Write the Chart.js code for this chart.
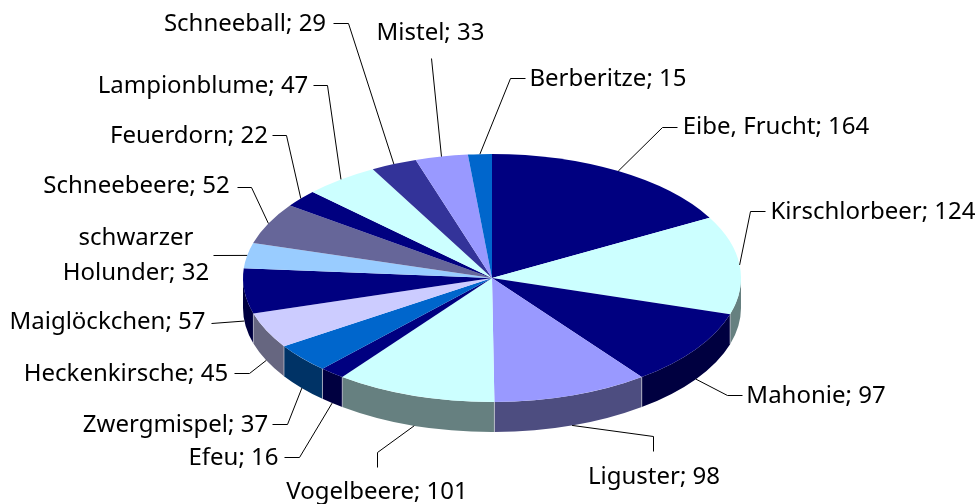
<!DOCTYPE html>
<html><head><meta charset="utf-8">
<style>html,body{margin:0;padding:0;background:#fff}canvas{display:block}</style>
<script src="https://cdn.jsdelivr.net/npm/chart.js@4"></script>
</head><body>
<canvas id="c" width="977" height="504"></canvas>
<script>
const categories = ["Eibe, Frucht","Kirschlorbeer","Mahonie","Liguster","Vogelbeere","Efeu","Zwergmispel","Heckenkirsche","Maiglöckchen","schwarzer Holunder","Schneebeere","Feuerdorn","Lampionblume","Schneeball","Mistel","Berberitze"];
const values = [164,124,97,98,101,16,37,45,57,32,52,22,47,29,33,15];
const sliceColors = ["#000080","#CCFFFF","#000080","#9999FF","#CCFFFF","#000080","#0066CC","#CCCCFF","#000080","#99CCFF","#666699","#000080","#CCFFFF","#333399","#9999FF","#0066CC"];
const wallColors = ["#000040","#668080","#000040","#4D4D80","#668080","#000040","#003366","#666680","#000040","#4D6680","#33334D","#000040","#668080","#1A1A4D","#4D4D80","#003366"];

// layout only: text centre x and baseline y per label, leader elbows
const labelCenterX = [776,873,816,654,377,233.5,175.5,126,107.5,136,136.5,189,203,245,430.5,608];
const labelBaseY = [134,219,403,484,499,465,432,381,329,280,193,143,93,31,40,86];
const leaderPath = [
 [[677,127],[662,127]],[[765,211],[750,211]],[[742,395],[727,395]],[[653,451],[653,436]],
 [[377,467],[377,452]],[[284,457],[299,457]],[[272,424],[287,424]],[[234,373],[249,373]],
 [[211,323]],[[213,255]],[[237,187],[251,187]],[[272,135],[286,135]],
 [[313,85],[327,85]],[[333,23],[348,23]],[[431,58]],[[525,78],[510,78]]
];
const FONT = '24px "Noto Sans"';
const RX = 249, RY = 124, CY = 278, DEPTH = 30;

const pie3d = {
  id:'pie3d',
  beforeDatasetsDraw(chart){
    const ctx = chart.ctx, arcs = chart.getDatasetMeta(0).data;
    const cx = arcs[0].x;
    arcs.forEach((a,i)=>{
      const lo = Math.max(a.startAngle,0), hi = Math.min(a.endAngle,Math.PI);
      if(hi<=lo) return;
      ctx.beginPath();
      ctx.ellipse(cx,CY,RX,RY,0,lo,hi);
      ctx.ellipse(cx,CY+DEPTH,RX,RY,0,hi,lo,true);
      ctx.closePath();
      ctx.fillStyle = wallColors[i];
      ctx.fill();
    });
    ctx.strokeStyle='rgba(210,210,220,0.65)'; ctx.lineWidth=1;
    arcs.forEach(a=>{
      const t=a.endAngle;
      if(t>0&&t<Math.PI){
        const x=cx+RX*Math.cos(t), y=CY+RY*Math.sin(t);
        ctx.beginPath();ctx.moveTo(x,y);ctx.lineTo(x,y+DEPTH);ctx.stroke();
      }
    });
    ctx.save();
    ctx.translate(0,CY);
    ctx.scale(1,RY/RX);
    ctx.translate(0,-arcs[0].y);
  },
  afterDatasetsDraw(chart){
    const ctx = chart.ctx, arcs = chart.getDatasetMeta(0).data;
    ctx.restore();
    const cx = arcs[0].x;
    ctx.strokeStyle='#000'; ctx.lineWidth=1; ctx.fillStyle='#000';
    ctx.font=FONT; ctx.textAlign='center'; ctx.textBaseline='alphabetic';
    arcs.forEach((a,i)=>{
      const m=(a.startAngle+a.endAngle)/2;
      const ex=cx+RX*Math.cos(m);
      let ey=CY+RY*Math.sin(m);
      if(Math.sin(m)>0) ey+=DEPTH;
      ctx.beginPath();
      leaderPath[i].forEach((p,k)=>k?ctx.lineTo(p[0]+.5,p[1]+.5):ctx.moveTo(p[0]+.5,p[1]+.5));
      ctx.lineTo(ex,ey);
      ctx.stroke();
      const txt=categories[i]+'; '+values[i];
      if(i===9){
        ctx.fillText('schwarzer',labelCenterX[i],labelBaseY[i]-35);
        ctx.fillText('Holunder; '+values[i],labelCenterX[i],labelBaseY[i]);
      } else ctx.fillText(txt,labelCenterX[i],labelBaseY[i]);
    });
  }
};

new Chart(document.getElementById('c'),{
  type:'pie',
  data:{labels:categories,datasets:[{data:values,backgroundColor:sliceColors,borderWidth:0}]},
  options:{
    responsive:false,animation:false,events:[],
    radius:RX,
    layout:{padding:{left:7,top:3,bottom:3}},
    plugins:{legend:{display:false},tooltip:{enabled:false},title:{display:false}}
  },
  plugins:[pie3d]
});
</script>
</body></html>
